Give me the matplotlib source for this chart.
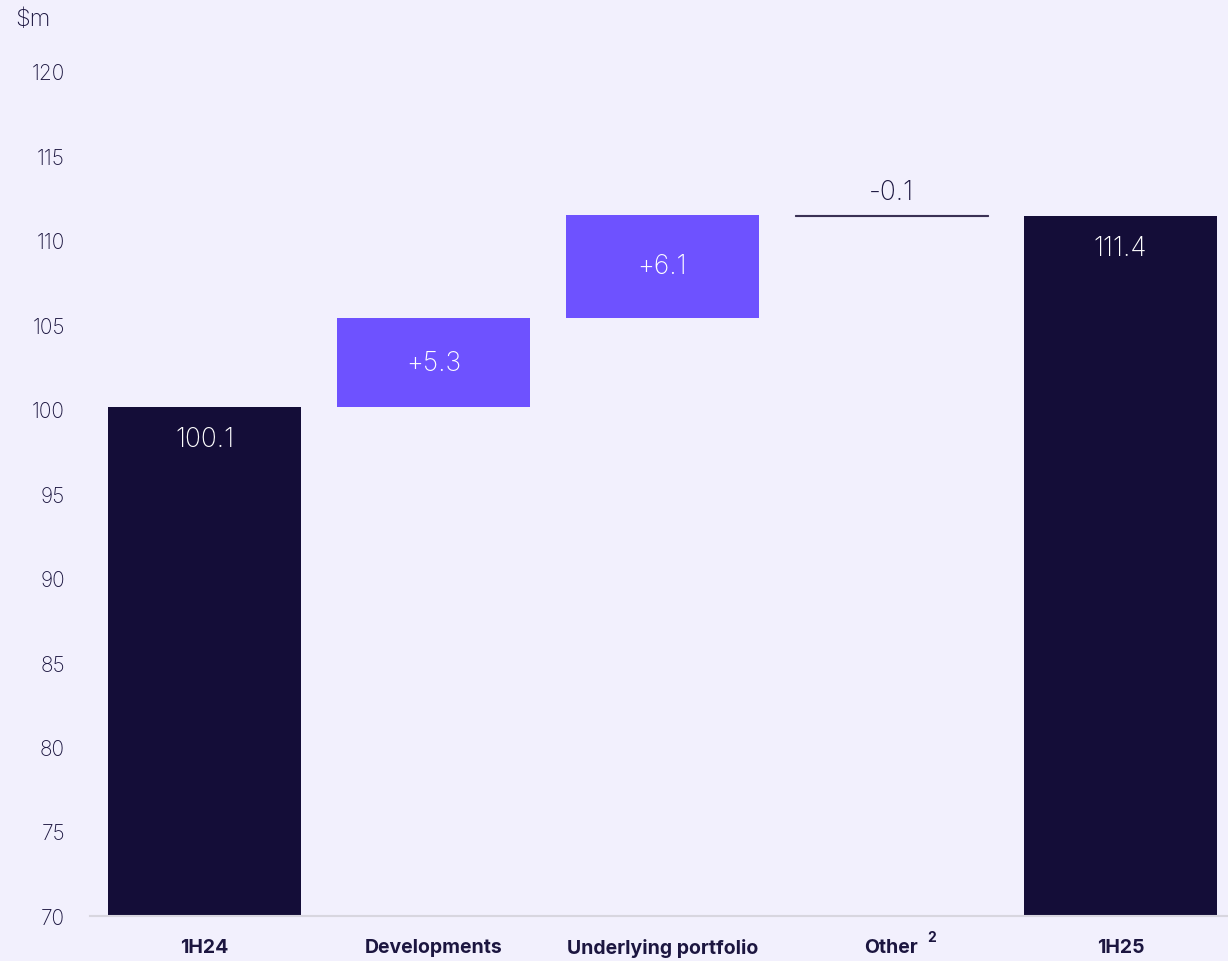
import matplotlib
matplotlib.use("Agg")
import matplotlib.pyplot as plt
from matplotlib.transforms import offset_copy

categories = ["1H24", "Developments", "Underlying portfolio", "Other", "1H25"]
start_value = 100.1
changes = [5.3, 6.1, -0.1]
end_value = 111.4
value_labels = ["100.1", "+5.3", "+6.1", "-0.1", "111.4"]
yticks = [70, 75, 80, 85, 90, 95, 100, 105, 110, 115, 120]

BG = "#f2f0fd"
DARK = "#140d38"
PURPLE = "#6e52ff"
LINE = "#3b3155"
TXT = "#1c1640"

plt.rcParams['font.family'] = ['Inter', 'DejaVu Sans']

fig = plt.figure(figsize=(12.28, 9.62), dpi=100, facecolor=BG)
ax = fig.add_axes([90/1228, 1-917/962, 1-90/1228, (917-72)/962])
ax.set_facecolor(BG)

ymin = 70
x = list(range(len(categories)))
width = 0.84

# totals
ax.bar(x[0], start_value - ymin, bottom=ymin, width=width, color=DARK)
ax.bar(x[4], end_value - ymin, bottom=ymin, width=width, color=DARK)

running = start_value
for i, c in enumerate(changes):
    lo = min(running, running + c)
    hi = max(running, running + c)
    xi = x[i + 1]
    if c > 0:
        ax.bar(xi, hi - lo, bottom=lo, width=width, color=PURPLE)
        ax.text(xi, (lo + hi) / 2, value_labels[i + 1], ha='center', va='center',
                color='white', fontsize=19, fontweight='light')
    else:
        ax.bar(xi, hi - lo, bottom=lo, width=width, color=LINE,
               edgecolor=LINE, linewidth=0.8)
        ax.text(xi, hi + 0.6, value_labels[i + 1], ha='center', va='bottom',
                color=TXT, fontsize=19, fontweight='light')
    running += c

ax.text(x[0], start_value - 1.9, value_labels[0], ha='center', va='center',
        color='white', fontsize=19, fontweight='light')
ax.text(x[4], end_value - 1.9, value_labels[4], ha='center', va='center',
        color='white', fontsize=19, fontweight='light')

ax.set_ylim(70, 120)
ax.set_xlim(-0.5, 4.47)
ax.set_yticks(yticks)
ax.set_yticklabels([str(t) for t in yticks], fontsize=15, color=TXT, fontweight='light')
ax.set_xticks(x)
ax.set_xticklabels(categories, fontsize=14, fontweight='bold', color=TXT)
ax.tick_params(axis='y', length=0, pad=18)
ax.tick_params(axis='x', length=0, pad=16)
for s in ['top', 'right', 'left']:
    ax.spines[s].set_visible(False)
ax.spines['bottom'].set_color('#d8d6df')
ax.spines['bottom'].set_linewidth(1.5)

# superscript on "Other"
ax.text(3, 0, "2", transform=offset_copy(ax.get_xaxis_transform(), fig=fig, x=26, y=-10, units='points'),
        fontsize=10, fontweight='bold', color=TXT, ha='left', va='top', clip_on=False)

fig.text(15/1228, 1-20/962, "$m", fontsize=17, color=TXT, ha='left', va='center', fontweight='light')

fig.savefig("out.png", dpi=100, facecolor=BG)
